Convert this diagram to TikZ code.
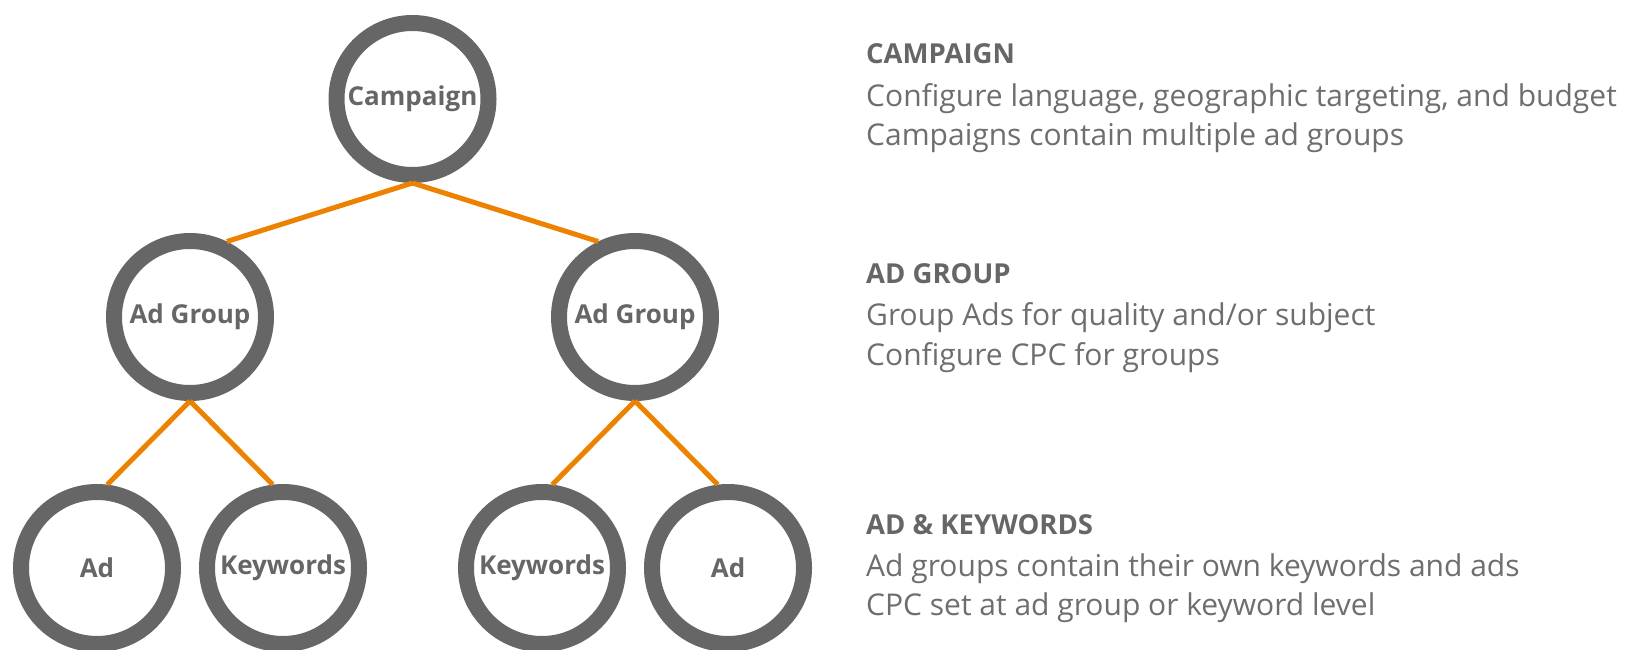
\documentclass[tikz,border=0pt]{standalone}
\usepackage{fontspec}
\setmainfont{Open Sans}
\usetikzlibrary{positioning}

\definecolor{ringgray}{RGB}{102,102,102}
\definecolor{textgray}{RGB}{110,110,110}
\definecolor{linkorange}{RGB}{236,130,0}

\begin{document}
\begin{tikzpicture}[x=1pt,y=-1pt,
    level/.style={circle,draw=ringgray,line width=16pt,minimum size=152pt,inner sep=0pt,
        text=ringgray,font=\fontsize{26}{30}\selectfont\bfseries},
    head/.style={anchor=base west,inner sep=0pt,text=ringgray,font=\fontsize{27.5}{34}\selectfont\bfseries},
    body/.style={anchor=base west,inner sep=0pt,text=textgray,font=\fontsize{30}{34}\selectfont},
    link/.style={draw=linkorange,line width=5pt}]
    \useasboundingbox (0,0) rectangle (1627,650);

    \node[level] (camp) at (412.5,99) {Campaign};
    \node[level,on grid,below left=218pt and 222.5pt of camp] (grp1) {Ad Group};
    \node[level,on grid,below right=218pt and 222.5pt of camp] (grp2) {Ad Group};
    \node[level,on grid,below left=251pt and 93pt of grp1] (ad1) {Ad};
    \node[level,on grid,below right=251pt and 93pt of grp1] (kw1) {Keywords};
    \node[level,on grid,below left=251pt and 93pt of grp2] (kw2) {Keywords};
    \node[level,on grid,below right=251pt and 93pt of grp2] (ad2) {Ad};

    \foreach \u / \v in {camp/grp1.64,camp/grp2.116,grp1/ad1.83,grp1/kw1.97,grp2/kw2.83,grp2/ad2.97}
        \draw[link] (\u.south) -- (\v);

    \node[head] (hcamp) at (866,64) {CAMPAIGN};
    \node[body] (camp1) at (866,107) {Configure language, geographic targeting, and budget};
    \node[body] (camp2) at (866,146) {Campaigns contain multiple ad groups};

    \node[head] (hgrp) at (866,283) {AD GROUP};
    \node[body] (grp1a) at (866,325) {Group Ads for quality and/or subject};
    \node[body] (grp1b) at (866,365) {Configure CPC for groups};

    \node[head] (hkw) at (866,534) {AD \& KEYWORDS};
    \node[body] (kw1a) at (866,576) {Ad groups contain their own keywords and ads};
    \node[body] (kw1b) at (866,615) {CPC set at ad group or keyword level};
\end{tikzpicture}
\end{document}
